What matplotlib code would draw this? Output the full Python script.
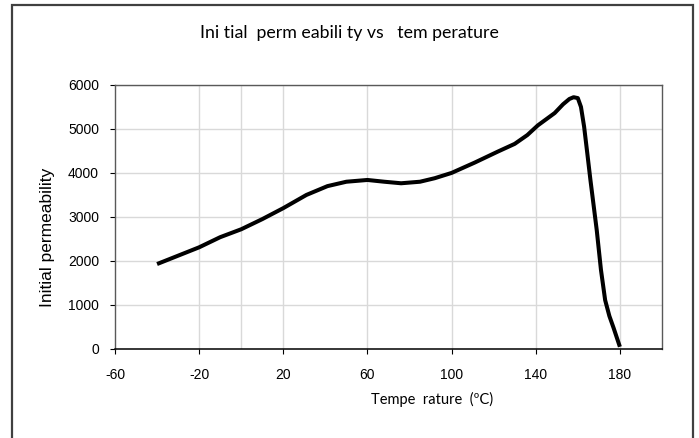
import matplotlib
matplotlib.use("Agg")
import matplotlib.pyplot as plt
from matplotlib.patches import Rectangle

plt.rcParams["axes.unicode_minus"] = False

# values
temperature = [-40, -20, -10, 0, 10, 20, 31, 41, 50, 60, 68, 76, 85, 92, 100,
               111, 122, 130, 136, 141, 149, 153, 156, 158, 160, 161.5, 163,
               164.5, 166, 169, 171, 173, 175, 177, 180]
permeability = [1930, 2310, 2540, 2720, 2950, 3200, 3500, 3700, 3800, 3840,
                3800, 3765, 3800, 3880, 4000, 4235, 4485, 4660, 4860, 5080,
                5360, 5560, 5680, 5720, 5700, 5500, 5050, 4450, 3840, 2700,
                1800, 1110, 750, 480, 50]

x_ticks = [-60, -20, 20, 60, 100, 140, 180]
x_grid = [-20, 0, 20, 60, 100, 140, 180]
y_ticks = [0, 1000, 2000, 3000, 4000, 5000, 6000]

title_text = "Ini tial  perm eabili ty vs   tem perature"
xlabel_text = "Tempe  rature  (ºC)"
ylabel_text = "Initial permeability"

fig = plt.figure(figsize=(6.99, 4.38), dpi=100)
ax = fig.add_axes([0.1645, 0.2032, 0.7825, 0.603])

# outer chart frame
fig.patches.append(Rectangle((12 / 699, -0.02), (693 - 12) / 699, (438 - 5) / 438 + 0.02,
                             transform=fig.transFigure, fill=False,
                             edgecolor="#404040", linewidth=1.6))

for xg in x_grid:
    ax.axvline(xg, color="#d9d9d9", linewidth=1.0, zorder=0)
for yg in y_ticks[1:]:
    ax.axhline(yg, color="#d9d9d9", linewidth=1.0, zorder=0)

ax.plot(temperature, permeability, color="black", linewidth=2.9,
        solid_capstyle="butt", solid_joinstyle="round", zorder=3)

ax.set_xlim(-60, 200)
ax.set_ylim(0, 6000)
ax.set_xticks(x_ticks)
ax.set_yticks(y_ticks)

tick_font = "Liberation Sans"
ax.tick_params(axis="both", direction="out", length=3.5, width=0.8,
               labelsize=10, colors="black")
ax.tick_params(axis="x", pad=10)
ax.tick_params(axis="y", pad=8)
for lbl in ax.get_xticklabels() + ax.get_yticklabels():
    lbl.set_fontfamily(tick_font)

for side in ["left", "top", "right"]:
    ax.spines[side].set_color("#595959")
    ax.spines[side].set_linewidth(1.0)
ax.spines["bottom"].set_color("black")
ax.spines["bottom"].set_linewidth(1.1)

fig.text(349 / 699, 1 - 33 / 438, title_text, ha="center", va="center",
         fontsize=12.8, family="Lato")
fig.text(432 / 699, 1 - 399 / 438, xlabel_text, ha="center", va="center",
         fontsize=10.5, family="Lato")
fig.text(48 / 699, 1 - 237 / 438, ylabel_text, ha="center", va="center",
         rotation=90, fontsize=12.5, family=tick_font)

fig.savefig("out.png", dpi=100)
